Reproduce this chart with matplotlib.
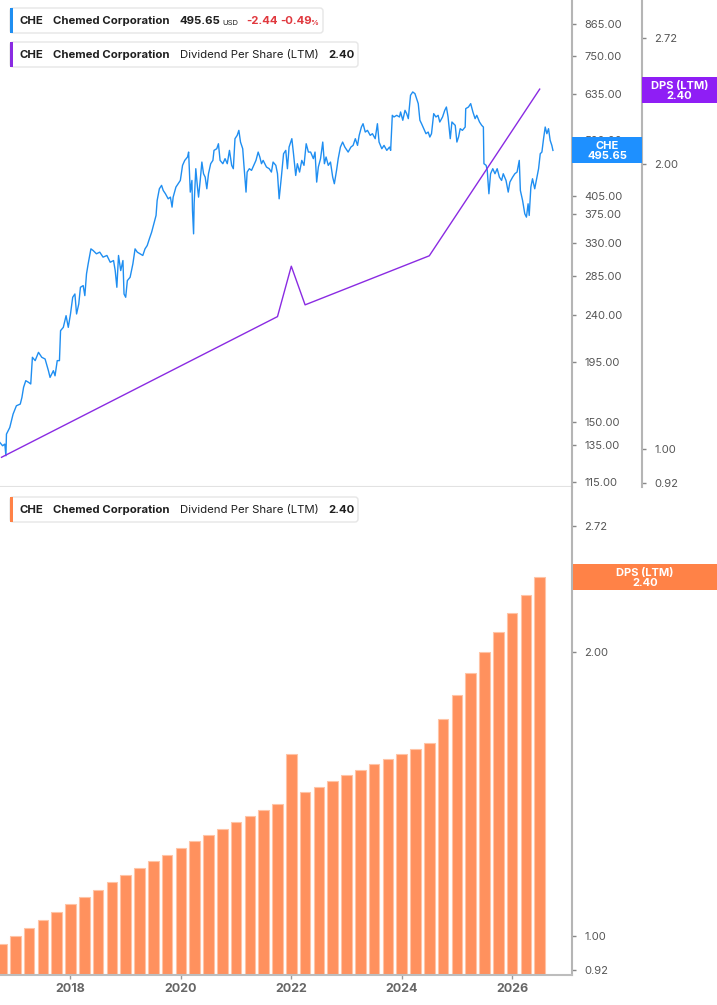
import matplotlib
matplotlib.use("Agg")
import matplotlib.pyplot as plt
from matplotlib.patches import Rectangle, FancyBboxPatch
from matplotlib.ticker import FixedLocator, FixedFormatter, NullLocator

plt.rcParams["font.family"] = ["Inter", "DejaVu Sans"]

# ---- data ----
price_dates = [
    2016.72, 2016.77, 2016.81, 2016.83, 2016.84, 2016.90, 2016.96, 2017.02, 2017.09, 2017.12,
    2017.15, 2017.19, 2017.24, 2017.28, 2017.31, 2017.36, 2017.42, 2017.48, 2017.54, 2017.60,
    2017.63, 2017.69, 2017.72, 2017.76, 2017.80, 2017.82, 2017.87, 2017.92, 2017.96, 2018.00,
    2018.04, 2018.08, 2018.11, 2018.15, 2018.18, 2018.23, 2018.26, 2018.29, 2018.32, 2018.37,
    2018.41, 2018.47, 2018.53, 2018.59, 2018.66, 2018.72, 2018.78, 2018.81, 2018.84, 2018.87,
    2018.91, 2018.95, 2018.97, 2019.00, 2019.03, 2019.08, 2019.13, 2019.17, 2019.21, 2019.26,
    2019.31, 2019.35, 2019.39, 2019.43, 2019.47, 2019.51, 2019.55, 2019.57, 2019.61, 2019.65,
    2019.68, 2019.72, 2019.77, 2019.81, 2019.84, 2019.86, 2019.91, 2019.95, 2019.99, 2020.03,
    2020.07, 2020.12, 2020.14, 2020.17, 2020.20, 2020.21, 2020.23, 2020.24, 2020.27, 2020.30,
    2020.32, 2020.35, 2020.38, 2020.41, 2020.44, 2020.47, 2020.50, 2020.54, 2020.58, 2020.60,
    2020.65, 2020.68, 2020.71, 2020.76, 2020.80, 2020.84, 2020.88, 2020.92, 2020.95, 2020.98,
    2021.02, 2021.05, 2021.08, 2021.12, 2021.14, 2021.18, 2021.20, 2021.24, 2021.28, 2021.32,
    2021.36, 2021.40, 2021.43, 2021.46, 2021.49, 2021.52, 2021.55, 2021.60, 2021.64, 2021.67,
    2021.72, 2021.75, 2021.78, 2021.82, 2021.86, 2021.90, 2021.93, 2021.96, 2022.01, 2022.04,
    2022.08, 2022.11, 2022.15, 2022.19, 2022.23, 2022.27, 2022.31, 2022.35, 2022.40, 2022.43,
    2022.46, 2022.49, 2022.53, 2022.57, 2022.60, 2022.63, 2022.67, 2022.71, 2022.75, 2022.78,
    2022.82, 2022.85, 2022.89, 2022.93, 2022.97, 2023.03, 2023.08, 2023.12, 2023.16, 2023.20,
    2023.23, 2023.27, 2023.30, 2023.34, 2023.38, 2023.43, 2023.47, 2023.52, 2023.56, 2023.59,
    2023.64, 2023.68, 2023.73, 2023.78, 2023.80, 2023.83, 2023.86, 2023.91, 2023.96, 2023.98,
    2024.02, 2024.06, 2024.09, 2024.12, 2024.16, 2024.20, 2024.24, 2024.27, 2024.30, 2024.33,
    2024.36, 2024.40, 2024.44, 2024.48, 2024.51, 2024.54, 2024.58, 2024.62, 2024.66, 2024.69,
    2024.74, 2024.78, 2024.81, 2024.84, 2024.88, 2024.91, 2024.94, 2024.97, 2025.00, 2025.03,
    2025.06, 2025.10, 2025.15, 2025.16, 2025.21, 2025.25, 2025.29, 2025.33, 2025.36, 2025.41,
    2025.45, 2025.48, 2025.49, 2025.53, 2025.55, 2025.58, 2025.61, 2025.65, 2025.69, 2025.73,
    2025.77, 2025.81, 2025.84, 2025.89, 2025.93, 2025.96, 2026.01, 2026.05, 2026.09, 2026.13,
    2026.15, 2026.19, 2026.23, 2026.26, 2026.29, 2026.31, 2026.34, 2026.37, 2026.41, 2026.45,
    2026.48, 2026.51, 2026.54, 2026.57, 2026.60, 2026.63, 2026.66, 2026.69, 2026.72, 2026.74,
]
price_values = [
    136.8, 134.8, 135.8, 129.0, 141.9, 146.1, 155.0, 160.8, 162.0, 166.8,
    174.4, 179.6, 178.3, 177.0, 199.1, 196.2, 203.5, 199.1, 197.6, 187.7,
    182.2, 187.7, 183.5, 196.2, 196.2, 223.9, 227.2, 239.2, 227.2, 241.0,
    259.4, 263.2, 241.0, 251.9, 271.1, 273.1, 261.3, 287.5, 300.5, 321.1,
    318.8, 314.2, 316.5, 309.6, 311.9, 302.7, 305.0, 291.8, 271.1, 311.9,
    291.8, 305.0, 263.2, 259.4, 279.2, 283.3, 300.5, 321.1, 316.5, 314.2,
    311.9, 321.1, 325.9, 335.9, 345.6, 358.6, 372.1, 397.5, 418.5, 424.8,
    415.4, 409.4, 400.4, 403.4, 386.0, 403.4, 421.6, 427.9, 434.2, 464.0,
    474.3, 481.4, 492.0, 412.4, 434.2, 380.4, 343.1, 391.7, 457.2, 421.6,
    403.4, 434.2, 470.8, 447.2, 440.6, 418.5, 447.2, 467.4, 474.3, 495.7,
    499.3, 510.4, 474.3, 467.4, 477.9, 467.4, 495.7, 464.0, 457.2, 521.9,
    529.6, 541.4, 514.2, 499.3, 467.4, 412.4, 450.5, 457.2, 453.9, 464.0,
    474.3, 492.0, 481.4, 467.4, 474.3, 467.4, 460.6, 457.2, 450.5, 470.8,
    464.0, 447.2, 400.4, 440.6, 488.4, 495.7, 457.2, 503.0, 521.9, 488.4,
    443.8, 467.4, 450.5, 474.3, 464.0, 510.4, 492.0, 492.0, 477.9, 492.0,
    431.0, 460.6, 477.9, 514.2, 467.4, 481.4, 464.0, 470.8, 440.6, 427.9,
    453.9, 477.9, 503.0, 514.2, 503.0, 492.0, 503.0, 506.7, 521.9, 506.7,
    529.6, 549.4, 557.5, 537.4, 541.4, 529.6, 533.5, 521.9, 557.5, 514.2,
    499.3, 506.7, 495.7, 503.0, 495.7, 578.5, 574.3, 578.5, 574.3, 587.1,
    566.0, 591.4, 582.8, 570.1, 631.9, 641.3, 636.6, 622.7, 609.1, 566.0,
    557.5, 545.4, 533.5, 537.4, 525.7, 533.5, 582.8, 574.3, 578.5, 561.7,
    574.3, 591.4, 600.1, 574.3, 521.9, 561.7, 557.5, 553.4, 514.2, 525.7,
    545.4, 541.4, 549.4, 595.8, 600.1, 609.1, 587.1, 570.1, 578.5, 561.7,
    553.4, 549.4, 467.4, 464.0, 453.9, 409.4, 447.2, 457.2, 447.2, 457.2,
    440.6, 434.2, 447.2, 434.2, 412.4, 431.0, 440.6, 447.2, 450.5, 474.3,
    415.4, 397.5, 374.8, 369.3, 391.7, 372.1, 421.6, 437.4, 418.5, 440.6,
    457.2, 488.4, 492.0, 521.9, 549.4, 533.5, 545.4, 518.0, 506.7, 495.65,
]

# dividend line in the top panel (its turning points)
dps_line_dates = [2016.75, 2021.75, 2022.00, 2022.25, 2024.50, 2026.50]
dps_line_values = [0.98, 1.38, 1.56, 1.42, 1.60, 2.40]

# quarterly dividend bars in the bottom panel
dps_dates = [
    2016.75, 2017.00, 2017.25, 2017.50, 2017.75, 2018.00, 2018.25, 2018.50, 2018.75, 2019.00,
    2019.25, 2019.50, 2019.75, 2020.00, 2020.25, 2020.50, 2020.75, 2021.00, 2021.25, 2021.50,
    2021.75, 2022.00, 2022.25, 2022.50, 2022.75, 2023.00, 2023.25, 2023.50, 2023.75, 2024.00,
    2024.25, 2024.50, 2024.75, 2025.00, 2025.25, 2025.50, 2025.75, 2026.00, 2026.25, 2026.50,
]
dps_values = [
    0.98, 1.00, 1.02, 1.04, 1.06, 1.08, 1.10, 1.12, 1.14, 1.16,
    1.18, 1.20, 1.22, 1.24, 1.26, 1.28, 1.30, 1.32, 1.34, 1.36,
    1.38, 1.56, 1.42, 1.44, 1.46, 1.48, 1.50, 1.52, 1.54, 1.56,
    1.58, 1.60, 1.70, 1.80, 1.90, 2.00, 2.10, 2.20, 2.30, 2.40,
]

price_ticks = [115, 135, 150, 195, 240, 285, 330, 375, 405, 520, 635, 750, 865]
dps_ticks = [0.92, 1.00, 2.00, 2.72]
year_ticks = [2018, 2020, 2022, 2024, 2026]

BLUE = "#1f8ef1"
PURPLE = "#8a2be2"
ORANGE = "#ff915e"
ORANGE_BOX = "#ff8247"
RED = "#e0383e"
AXIS = "#b5b5b5"
LABEL = "#555555"

W, H = 717, 1005
X0, PX_PER_YEAR = 2016.723, 55.2

fig = plt.figure(figsize=(W / 100, H / 100), dpi=100)


def style_right_axis(ax, ticks, fmt):
    ax.set_yscale("log")
    ax.yaxis.tick_right()
    ax.yaxis.set_major_locator(FixedLocator(ticks))
    ax.yaxis.set_major_formatter(FixedFormatter([fmt.format(t) for t in ticks]))
    ax.yaxis.set_minor_locator(NullLocator())
    ax.tick_params(axis="y", which="major", length=3, width=1, color="#888888",
                   labelsize=8, labelcolor=LABEL, pad=6)
    for side in ("top", "left"):
        ax.spines[side].set_visible(False)
    ax.spines["right"].set_color(AXIS)
    ax.spines["right"].set_linewidth(1.5)


# top panel: price
ax_price = fig.add_axes([0, 518 / H, 572 / W, 487 / H])
ax_price.plot(price_dates, price_values, color=BLUE, lw=1.0)
style_right_axis(ax_price, price_ticks, "{:.2f}")
ax_price.set_ylim(112.4, 961.8)
ax_price.set_xlim(X0, X0 + 572 / PX_PER_YEAR)
ax_price.set_xticks([])
ax_price.spines["bottom"].set_color("#e2e2e2")
ax_price.spines["bottom"].set_linewidth(1.5)

# top panel: dividend line on its own axis
ax_dps = fig.add_axes([0, 518 / H, 642 / W, 487 / H])
ax_dps.patch.set_alpha(0)
ax_dps.plot(dps_line_dates, dps_line_values, color=PURPLE, lw=1.0)
style_right_axis(ax_dps, dps_ticks, "{:.2f}")
ax_dps.set_ylim(0.9117, 2.981)
ax_dps.set_xlim(X0, X0 + 642 / PX_PER_YEAR)
ax_dps.set_xticks([])
ax_dps.spines["bottom"].set_visible(False)

# bottom panel: dividend bars
ax_bar = fig.add_axes([0, 30 / H, 572 / W, 488 / H])
ax_bar.bar(dps_dates, dps_values, width=0.193, log=True, color=ORANGE,
           edgecolor="#ffc4a6", linewidth=0.8)
style_right_axis(ax_bar, dps_ticks, "{:.2f}")
ax_bar.set_ylim(0.9092, 2.992)
ax_bar.set_xlim(X0, X0 + 572 / PX_PER_YEAR)
ax_bar.set_xticks(year_ticks)
ax_bar.set_xticklabels([str(y) for y in year_ticks], fontweight="bold")
ax_bar.tick_params(axis="x", length=3, width=1, color="#999999", labelsize=9,
                   labelcolor="#666666", pad=3)
ax_bar.spines["bottom"].set_color("#bdbdbd")
ax_bar.spines["bottom"].set_linewidth(1.5)

# overlay in pixel coordinates for legends and value badges
ov = fig.add_axes([0, 0, 1, 1], zorder=10)
ov.set_xlim(0, W)
ov.set_ylim(H, 0)
ov.axis("off")


def legend_box(x, y, w, h, stripe):
    ov.add_patch(FancyBboxPatch((x, y), w, h, boxstyle="round,pad=0,rounding_size=3",
                                fc="white", ec="#e6e6e6", lw=1))
    ov.add_patch(Rectangle((x, y), 3, h, color=stripe, lw=0))


def put(x, y, s, size=8.2, weight="bold", color="#1f1f1f"):
    ov.text(x, y, s, fontsize=size, fontweight=weight, color=color,
            ha="left", va="center")


legend_box(10, 8, 313, 25, BLUE)
put(20, 21, "CHE")
put(53, 21, "Chemed Corporation")
put(180, 21, "495.65")
put(222, 23, "USD", size=5.5, weight="normal")
put(246, 21, "-2.44", color=RED)
put(280, 21, "-0.49", color=RED)
put(310, 23, "%", size=5.5, color=RED)

for top, stripe in ((42, PURPLE), (497, ORANGE_BOX)):
    legend_box(10, top, 348, 25, stripe)
    cy = top + 13
    put(20, cy, "CHE")
    put(53, cy, "Chemed Corporation")
    put(180, cy, "Dividend Per Share (LTM)", weight="normal")
    put(328, cy, "2.40")


def badge(x, y, w, h, color, label):
    ov.add_patch(Rectangle((x, y), w, h, color=color, lw=0))
    ov.text(x + w / 2, y + h / 2 + 0.5, label, fontsize=8, fontweight="bold",
            color="white", ha="center", va="center", linespacing=1.0)


badge(572, 137, 70, 26, "#1e90ff", "CHE\n495.65")
badge(642, 77, 75, 26, "#8f1ef5", "DPS (LTM)\n2.40")
badge(573, 564, 144, 26, ORANGE_BOX, "DPS (LTM)\n2.40")

fig.savefig("out.png", dpi=100)
